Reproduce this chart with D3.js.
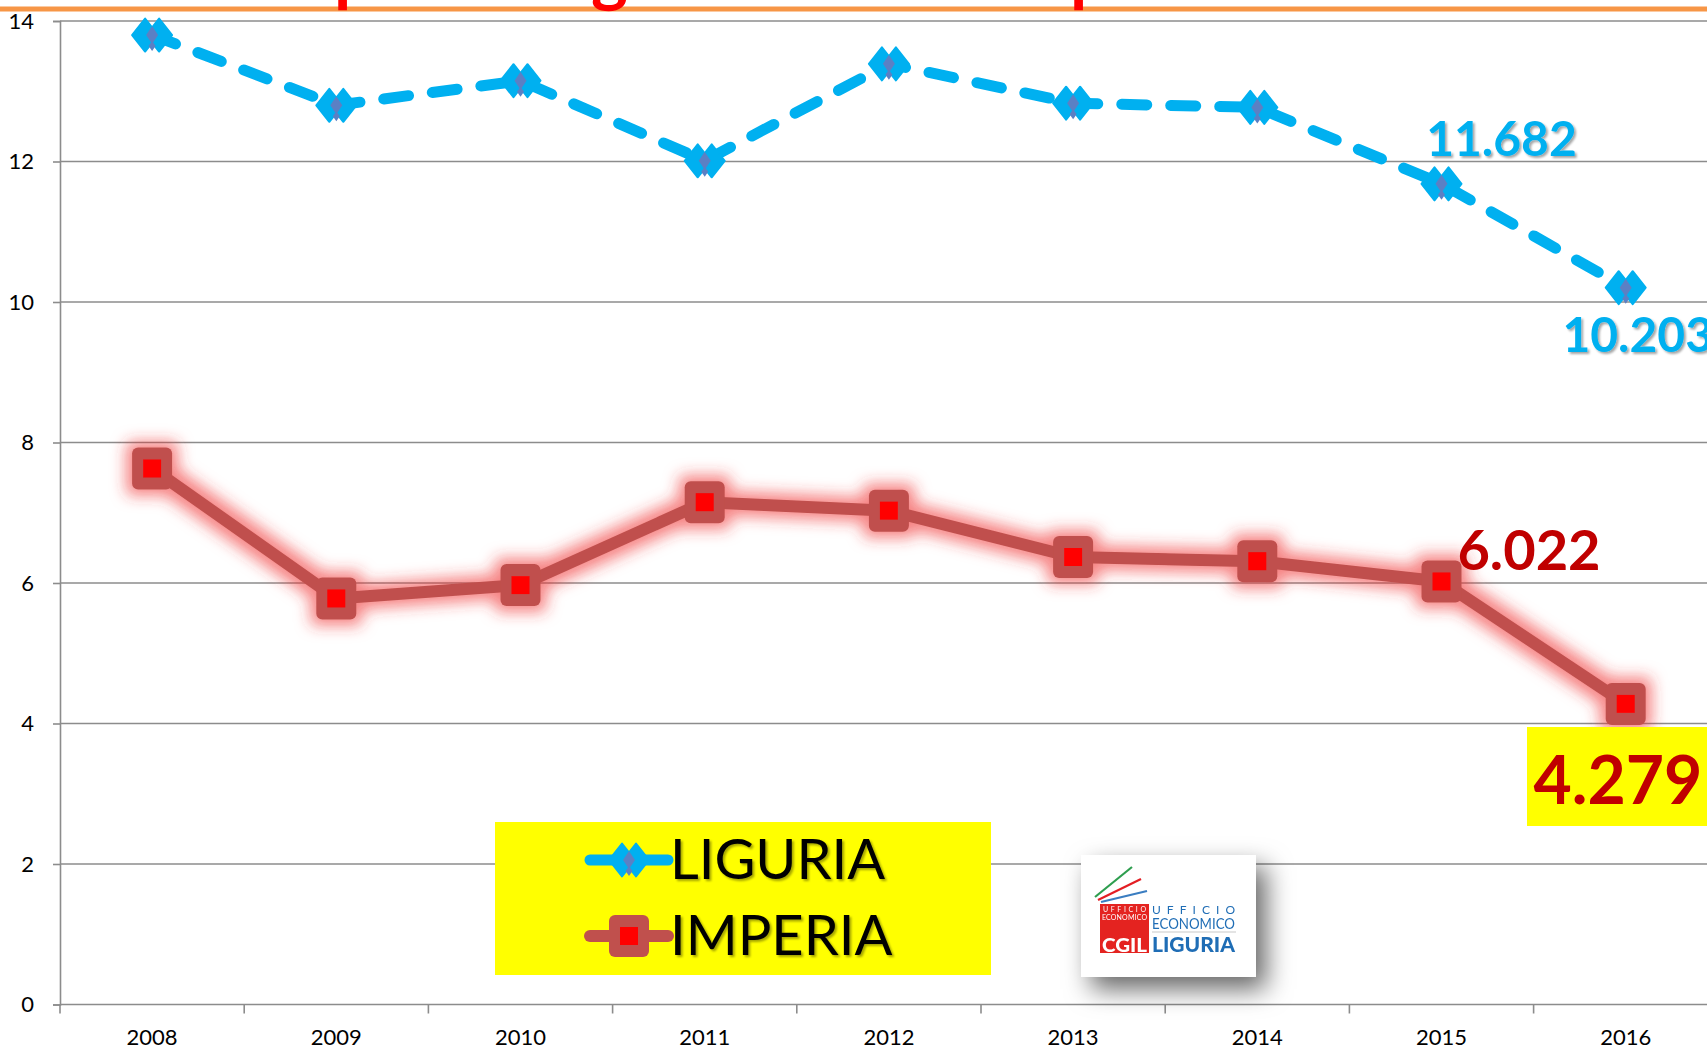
<!DOCTYPE html>
<html>
<head>
<meta charset="utf-8">
<script src="https://cdnjs.cloudflare.com/ajax/libs/d3/7.8.5/d3.min.js"></script>
<style>
  body { margin: 0; background: #fff; }
  svg { display: block; font-family: Lato, "Open Sans", sans-serif; }
</style>
</head>
<body>
<div id="chart"></div>
<script>
// values (thousands)
var years = ["2008", "2009", "2010", "2011", "2012", "2013", "2014", "2015", "2016"];
var liguria = [13.80, 12.80, 13.15, 12.01, 13.39, 12.83, 12.77, 11.682, 10.203];
var imperia = [7.63, 5.78, 5.97, 7.15, 7.03, 6.37, 6.31, 6.022, 4.279];
var yTicks = [0, 2, 4, 6, 8, 10, 12, 14];
var seriesNames = ["LIGURIA", "IMPERIA"];
// which points carry a data label
var liguriaLabelYears = ["2015", "2016"];
var imperiaLabelYears = ["2015", "2016"];
var titleBits = ["p", "g", "p"];

var W = 1707, H = 1051;
var fmt = d3.format(".3f");

var svg = d3.select("#chart").append("svg")
    .attr("width", W)
    .attr("height", H);

var defs = svg.append("defs");

// red glow round the Imperia series
var glow = defs.append("filter").attr("id", "glow")
    .attr("filterUnits", "userSpaceOnUse")
    .attr("x", 0).attr("y", 0).attr("width", W).attr("height", H);
glow.append("feMorphology").attr("in", "SourceAlpha").attr("operator", "dilate").attr("radius", 6).attr("result", "d");
glow.append("feGaussianBlur").attr("in", "d").attr("stdDeviation", 7.5).attr("result", "b");
glow.append("feFlood").attr("flood-color", "#f03030").attr("flood-opacity", 0.6);
glow.append("feComposite").attr("in2", "b").attr("operator", "in").attr("result", "g");
var gm = glow.append("feMerge");
gm.append("feMergeNode").attr("in", "g");
gm.append("feMergeNode").attr("in", "SourceGraphic");

// small text shadow
var tshadow = defs.append("filter").attr("id", "tshadow")
    .attr("x", "-10%").attr("y", "-10%").attr("width", "130%").attr("height", "140%");
tshadow.append("feDropShadow").attr("dx", 2).attr("dy", 2).attr("stdDeviation", 1)
    .attr("flood-color", "#000").attr("flood-opacity", 0.35);

// big soft shadow for the logo box
var lshadow = defs.append("filter").attr("id", "lshadow")
    .attr("x", "-40%").attr("y", "-40%").attr("width", "200%").attr("height", "200%");
lshadow.append("feDropShadow").attr("dx", 10).attr("dy", 12).attr("stdDeviation", 13)
    .attr("flood-color", "#000").attr("flood-opacity", 0.6);

// scales
var x = d3.scaleBand()
    .domain(years)
    .range([60, 60 + 9 * 184.2]);

var y = d3.scaleLinear()
    .domain([0, 14])
    .range([1004.5, 21]);

function cx(d) { return x(d) + x.bandwidth() / 2; }

// orange rule and the cut off title at the top
svg.append("line")
    .attr("x1", 0).attr("x2", W)
    .attr("y1", 9).attr("y2", 9)
    .style("stroke", "#f79646")
    .style("stroke-width", 5);

var titleX = [334, 591, 1070];
svg.selectAll(".titlebit")
    .data(titleBits)
    .enter().append("text")
    .attr("class", "titlebit")
    .attr("x", function(d, i) { return titleX[i]; })
    .attr("y", -2)
    .style("font-size", "70px")
    .style("font-weight", "bold")
    .style("fill", "#ff0000")
    .text(function(d) { return d; });

// gridlines
svg.append("g")
    .selectAll("line")
    .data(yTicks)
    .enter().append("line")
    .attr("x1", 60).attr("x2", W)
    .attr("y1", function(d) { return y(d); })
    .attr("y2", function(d) { return y(d); })
    .style("stroke", "#8c8c8c")
    .style("stroke-width", 1.6);

// y axis
var yAxis = d3.axisLeft(y).tickValues(yTicks).tickSize(7).tickPadding(19);
var gy = svg.append("g")
    .attr("class", "y axis")
    .attr("transform", "translate(60,0)")
    .call(yAxis);
gy.select(".domain").style("stroke", "#8c8c8c").style("stroke-width", 1.6);
gy.selectAll(".tick line").style("stroke", "#8c8c8c").style("stroke-width", 1.6);
gy.selectAll(".tick text")
    .style("font-family", "Lato, sans-serif")
    .style("font-size", "22px")
    .style("fill", "#000");

// x axis: labels centred, ticks on the category boundaries
var xAxis = d3.axisBottom(x).tickSize(0).tickPadding(25);
var gx = svg.append("g")
    .attr("class", "x axis")
    .attr("transform", "translate(0," + y(0) + ")")
    .call(xAxis);
gx.select(".domain").remove();
gx.selectAll(".tick text")
    .style("font-family", "Lato, sans-serif")
    .style("font-size", "22px")
    .style("fill", "#000");

var bounds = years.map(function(d) { return x(d); });
bounds.push(x.range()[1]);
svg.append("g")
    .selectAll("line")
    .data(bounds)
    .enter().append("line")
    .attr("x1", function(d) { return d; })
    .attr("x2", function(d) { return d; })
    .attr("y1", y(0))
    .attr("y2", y(0) + 9)
    .style("stroke", "#8c8c8c")
    .style("stroke-width", 1.6);

// marker builders
function diamond(hw, hh) {
  return "M0," + (-hh) + "L" + hw + ",0L0," + hh + "L" + (-hw) + ",0Z";
}

function drawDiamondMarker(g) {
  g.append("path").attr("d", diamond(13, 16.5)).attr("transform", "translate(-7,0)")
    .style("fill", "#00b0f0").style("stroke", "#00b0f0").style("stroke-width", 2).style("stroke-linejoin", "round");
  g.append("path").attr("d", diamond(13, 16.5)).attr("transform", "translate(7,0)")
    .style("fill", "#00b0f0").style("stroke", "#00b0f0").style("stroke-width", 2).style("stroke-linejoin", "round");
  g.append("path").attr("d", diamond(6, 9))
    .style("fill", "#5b80c4");
  g.append("path").attr("d", diamond(3.5, 5)).attr("transform", "translate(0,11)")
    .style("fill", "#5b80c4");
}

function drawSquareMarker(g) {
  g.append("rect")
    .attr("x", -20).attr("y", -21).attr("width", 40).attr("height", 42)
    .attr("rx", 6)
    .style("fill", "#c0504d");
  g.append("rect")
    .attr("x", -9).attr("y", -9).attr("width", 18).attr("height", 18)
    .style("fill", "#ff0000");
}

var line = d3.line()
    .x(function(d, i) { return cx(years[i]); })
    .y(function(d) { return y(d); });

// Imperia series with glow
var gImp = svg.append("g").attr("filter", "url(#glow)");
gImp.append("path")
    .datum(imperia)
    .attr("d", line)
    .style("fill", "none")
    .style("stroke", "#c0504d")
    .style("stroke-width", 12)
    .style("stroke-linejoin", "round");
gImp.selectAll(".imp")
    .data(imperia)
    .enter().append("g")
    .attr("class", "imp")
    .attr("transform", function(d, i) { return "translate(" + cx(years[i]) + "," + y(d) + ")"; })
    .each(function() { drawSquareMarker(d3.select(this)); });

// Liguria series, dashed
svg.append("path")
    .datum(liguria)
    .attr("d", line)
    .style("fill", "none")
    .style("stroke", "#00b0f0")
    .style("stroke-width", 11)
    .style("stroke-linecap", "round")
    .style("stroke-linejoin", "round")
    .style("stroke-dasharray", "25,24");
svg.selectAll(".lig")
    .data(liguria)
    .enter().append("g")
    .attr("class", "lig")
    .attr("transform", function(d, i) { return "translate(" + cx(years[i]) + "," + y(d) + ")"; })
    .each(function() { drawDiamondMarker(d3.select(this)); });

// data labels
var ligLab = years.map(function(yr, i) { return {year: yr, v: liguria[i]}; })
    .filter(function(d) { return liguriaLabelYears.indexOf(d.year) >= 0; });
var ligOff = [{dx: 60, dy: -28}, {dx: 12, dy: 64}];
svg.selectAll(".liglab")
    .data(ligLab)
    .enter().append("text")
    .attr("class", "liglab")
    .attr("x", function(d, i) { return cx(d.year) + ligOff[i].dx; })
    .attr("y", function(d, i) { return y(d.v) + ligOff[i].dy; })
    .attr("text-anchor", "middle")
    .attr("filter", "url(#tshadow)")
    .style("font-size", "48px")
    .style("font-weight", "bold")
    .style("fill", "#00b0f0")
    .text(function(d) { return fmt(d.v); });

var impLab = years.map(function(yr, i) { return {year: yr, v: imperia[i]}; })
    .filter(function(d) { return imperiaLabelYears.indexOf(d.year) >= 0; });

// yellow box behind the last Imperia value
svg.append("rect")
    .attr("x", 1527).attr("y", 727)
    .attr("width", W - 1527).attr("height", 99)
    .style("fill", "#ffff00");

var impOff = [{dy: -11, size: 56}, {dy: 100, size: 66}];
var impX = [1529, 1618];
svg.selectAll(".implab")
    .data(impLab)
    .enter().append("text")
    .attr("class", "implab")
    .attr("x", function(d, i) { return impX[i]; })
    .attr("y", function(d, i) { return y(d.v) + impOff[i].dy; })
    .attr("text-anchor", "middle")
    .style("font-size", function(d, i) { return impOff[i].size + "px"; })
    .style("font-weight", "bold")
    .style("fill", "#c00000")
    .text(function(d) { return fmt(d.v); });

// legend
var legend = svg.append("g");
legend.append("rect")
    .attr("x", 495).attr("y", 822)
    .attr("width", 496).attr("height", 153)
    .style("fill", "#ffff00");

var legY = [860, 936];
var legColors = ["#00b0f0", "#c0504d"];
seriesNames.forEach(function(name, i) {
  var row = legend.append("g");
  row.append("line")
    .attr("x1", 590).attr("x2", 668)
    .attr("y1", legY[i]).attr("y2", legY[i])
    .style("stroke", legColors[i])
    .style("stroke-width", i === 0 ? 11 : 12)
    .style("stroke-linecap", "round");
  var m = row.append("g").attr("transform", "translate(629," + legY[i] + ")");
  if (i === 0) drawDiamondMarker(m); else drawSquareMarker(m);
  row.append("text")
    .attr("x", 670)
    .attr("y", legY[i] + 19)
    .attr("filter", "url(#tshadow)")
    .style("font-size", "56px")
    .style("fill", "#000")
    .text(name);
});

// logo box
var logo = svg.append("g");
logo.append("rect")
    .attr("x", 1081).attr("y", 855)
    .attr("width", 175).attr("height", 122)
    .attr("filter", "url(#lshadow)")
    .style("fill", "#fff");
var strokes = [
  {x1: 1095, y1: 897, x2: 1132, y2: 867, c: "#2e9e4f"},
  {x1: 1098, y1: 900, x2: 1141, y2: 879, c: "#e31e24"},
  {x1: 1101, y1: 902, x2: 1147, y2: 891, c: "#3a7dc1"}
];
logo.selectAll(".st")
    .data(strokes)
    .enter().append("line")
    .attr("x1", function(d) { return d.x1; })
    .attr("y1", function(d) { return d.y1; })
    .attr("x2", function(d) { return d.x2; })
    .attr("y2", function(d) { return d.y2; })
    .style("stroke", function(d) { return d.c; })
    .style("stroke-width", 2.2);
logo.append("rect")
    .attr("x", 1100).attr("y", 904)
    .attr("width", 49).attr("height", 49)
    .style("fill", "#e42320");
logo.append("text").attr("x", 1103).attr("y", 912).attr("textLength", 43)
    .style("font-size", "7px").style("fill", "#fff").text("UFFICIO");
logo.append("text").attr("x", 1102).attr("y", 920).attr("textLength", 45)
    .style("font-size", "7px").style("fill", "#fff").text("ECONOMICO");
logo.append("text").attr("x", 1102).attr("y", 952).attr("textLength", 45)
    .attr("lengthAdjust", "spacingAndGlyphs")
    .style("font-size", "19px").style("font-weight", "900").style("fill", "#fff").text("CGIL");
logo.append("text").attr("x", 1152).attr("y", 914).attr("textLength", 83)
    .style("font-size", "12px").style("fill", "#1f6db5").text("UFFICIO");
logo.append("text").attr("x", 1152).attr("y", 929).attr("textLength", 83)
    .attr("lengthAdjust", "spacingAndGlyphs")
    .style("font-size", "15px").style("fill", "#1f6db5").text("ECONOMICO");
logo.append("line")
    .attr("x1", 1152).attr("x2", 1236).attr("y1", 932).attr("y2", 932)
    .style("stroke", "#bbb").style("stroke-width", 0.8);
logo.append("text").attr("x", 1152).attr("y", 952).attr("textLength", 83)
    .attr("lengthAdjust", "spacingAndGlyphs")
    .style("font-size", "20px").style("font-weight", "900").style("fill", "#1f6db5").text("LIGURIA");
</script>
</body>
</html>
